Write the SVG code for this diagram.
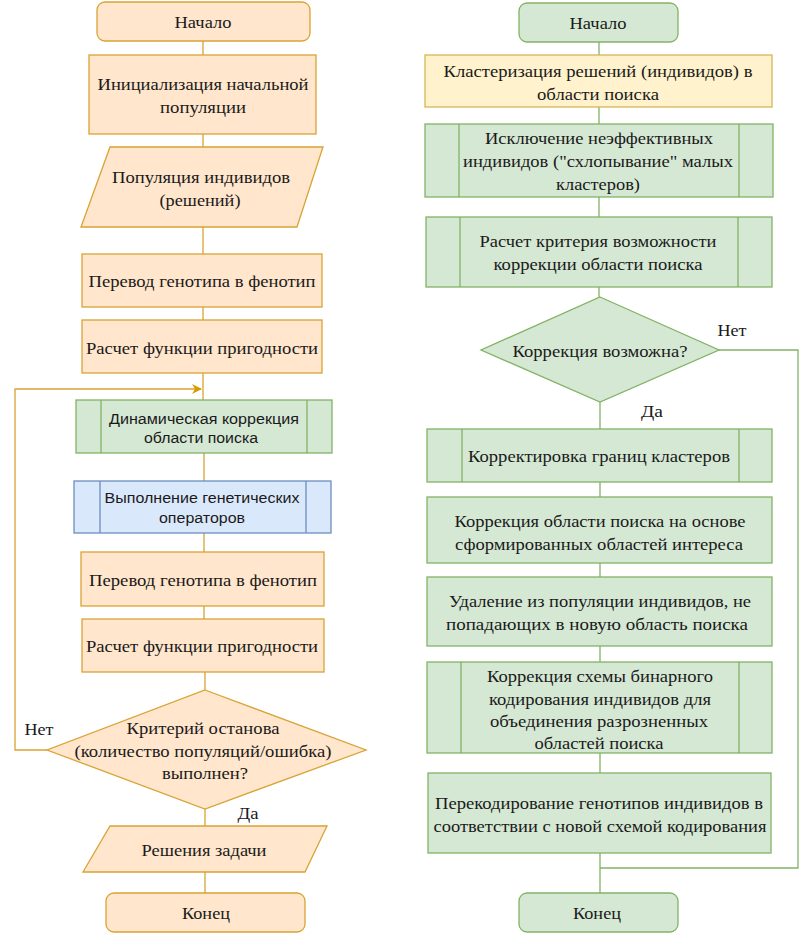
<svg xmlns="http://www.w3.org/2000/svg" width="800" height="934" viewBox="0 0 800 934">
<defs>
<style>
.o{fill:#ffe6cc;stroke:#d9a334;stroke-width:1.3}
.y{fill:#fff2cc;stroke:#d6b656;stroke-width:1.3}
.g{fill:#d5e8d4;stroke:#82b366;stroke-width:1.3}
.b{fill:#dae8fc;stroke:#6c8ebf;stroke-width:1.3}
.t{font-size:17.5px;fill:#1a1a1a;text-anchor:middle}
.s{font-size:15.5px;fill:#1a1a1a;text-anchor:middle}
.lo{fill:none;stroke:#d9a334;stroke-width:1.3}
.lg{fill:none;stroke:#82b366;stroke-width:1.3}
</style>
<marker id="ah" markerWidth="10" markerHeight="10" refX="9" refY="5" orient="auto" markerUnits="userSpaceOnUse">
<path d="M0,0 L10,5 L0,10 L3,5 z" fill="#d79b00"/>
</marker>
</defs>
<rect width="800" height="934" fill="#ffffff"/>
<g id="connectors">
<path class="lo" d="M203,41 V55 M203,134 V147 M203,227 V254 M203,307 V320 M203,373 V400 M204,453 V481 M204,533 V552 M204,606 V619 M205,672 V690 M205,809 V826 M205,872 V893"/>
<path class="lo" d="M47,750 H15 V389 H201" marker-end="url(#ah)"/>
<path class="lg" d="M599,42 V55 M599,107 V124 M599,197 V217 M599,287 V297 M600,402 V429 M600,482 V497 M600,563 V577 M600,646 V662 M600,753 V773 M600,853 V893"/>
<path class="lg" d="M719,350 H798 V868 H600"/>
</g>
<g font-family="Liberation Serif, DejaVu Serif, Times New Roman, serif">
<g id="l-start"><rect class="o" x="97" y="2" width="213" height="39" rx="8"/><text class="t" x="203" y="27.5" textLength="57" lengthAdjust="spacingAndGlyphs">Начало</text></g>
<g id="l-init"><rect class="o" x="89" y="55" width="227" height="79"/><text class="t" x="203" y="89.5" textLength="211" lengthAdjust="spacingAndGlyphs">Инициализация начальной</text><text class="t" x="203" y="112.5" textLength="86" lengthAdjust="spacingAndGlyphs">популяции</text></g>
<g id="l-pop"><polygon class="o" points="110,147 323,147 297,227 81,227"/><text class="t" x="201" y="182.5" textLength="178" lengthAdjust="spacingAndGlyphs">Популяция индивидов</text><text class="t" x="200" y="205.5" textLength="81" lengthAdjust="spacingAndGlyphs">(решений)</text></g>
<g id="l-geno1"><rect class="o" x="82" y="254" width="240" height="53"/><text class="t" x="202" y="286.5" textLength="227" lengthAdjust="spacingAndGlyphs">Перевод генотипа в фенотип</text></g>
<g id="l-fit1"><rect class="o" x="82" y="320" width="240" height="53"/><text class="t" x="202" y="353.5" textLength="232" lengthAdjust="spacingAndGlyphs">Расчет функции пригодности</text></g>
<g id="l-dyn" font-family="Liberation Sans, DejaVu Sans, Arial, sans-serif"><rect class="g" x="76" y="400" width="256" height="53"/><path class="lg" d="M101,400 V453 M307,400 V453"/><text class="s" x="204" y="423.5" textLength="190" lengthAdjust="spacingAndGlyphs">Динамическая коррекция</text><text class="s" x="201" y="442.5" textLength="114" lengthAdjust="spacingAndGlyphs">области поиска</text></g>
<g id="l-gen" font-family="Liberation Sans, DejaVu Sans, Arial, sans-serif"><rect class="b" x="74" y="481" width="257" height="52"/><path fill="none" stroke="#6c8ebf" stroke-width="1.3" d="M100,481 V533 M306,481 V533"/><text class="s" x="202" y="502.5" textLength="195" lengthAdjust="spacingAndGlyphs">Выполнение генетических</text><text class="s" x="202" y="522.5" textLength="86" lengthAdjust="spacingAndGlyphs">операторов</text></g>
<g id="l-geno2"><rect class="o" x="81" y="552" width="243" height="54"/><text class="t" x="203" y="585.5" textLength="228" lengthAdjust="spacingAndGlyphs">Перевод генотипа в фенотип</text></g>
<g id="l-fit2"><rect class="o" x="82" y="619" width="242" height="53"/><text class="t" x="202" y="651.5" textLength="232" lengthAdjust="spacingAndGlyphs">Расчет функции пригодности</text></g>
<g id="l-stop"><polygon class="o" points="205,690 366,750 205,809 47,750"/><text class="t" x="203" y="733.5" textLength="153" lengthAdjust="spacingAndGlyphs">Критерий останова</text><text class="t" x="203" y="756.5" textLength="257" lengthAdjust="spacingAndGlyphs">(количество популяций/ошибка)</text><text class="t" x="205" y="778.5" textLength="86" lengthAdjust="spacingAndGlyphs">выполнен?</text></g>
<g id="l-res"><polygon class="o" points="110,826 327,826 305,872 83,872"/><text class="t" x="204" y="856" textLength="125" lengthAdjust="spacingAndGlyphs">Решения задачи</text></g>
<g id="l-end"><rect class="o" x="106" y="893" width="199" height="39" rx="8"/><text class="t" x="206" y="918.5" textLength="48" lengthAdjust="spacingAndGlyphs">Конец</text></g>
<text class="t" x="39" y="734.5" textLength="29" lengthAdjust="spacingAndGlyphs">Нет</text>
<text class="t" x="248" y="818.5" textLength="21" lengthAdjust="spacingAndGlyphs">Да</text>
<g id="r-start"><rect class="g" x="519" y="3" width="159" height="39" rx="8"/><text class="t" x="598" y="28.5" textLength="57" lengthAdjust="spacingAndGlyphs">Начало</text></g>
<g id="r-clust"><rect class="y" x="425" y="55" width="347" height="52"/><text class="t" x="598" y="76.5" textLength="309" lengthAdjust="spacingAndGlyphs">Кластеризация решений (индивидов) в</text><text class="t" x="598" y="99.5" textLength="122" lengthAdjust="spacingAndGlyphs">области поиска</text></g>
<g id="r-excl"><rect class="g" x="425" y="124" width="348" height="73"/><path class="lg" d="M459,124 V197 M739,124 V197"/><text class="t" x="599" y="143.5" textLength="228" lengthAdjust="spacingAndGlyphs">Исключение неэффективных</text><text class="t" x="598" y="166.5" textLength="270" lengthAdjust="spacingAndGlyphs">индивидов ("схлопывание" малых</text><text class="t" x="598" y="189.5" textLength="84" lengthAdjust="spacingAndGlyphs">кластеров)</text></g>
<g id="r-crit"><rect class="g" x="426" y="217" width="346" height="70"/><path class="lg" d="M460,217 V287 M738,217 V287"/><text class="t" x="598" y="246.5" textLength="237" lengthAdjust="spacingAndGlyphs">Расчет критерия возможности</text><text class="t" x="598" y="269.5" textLength="209" lengthAdjust="spacingAndGlyphs">коррекции области поиска</text></g>
<g id="r-dec"><polygon class="g" points="600,297 719,350 600,402 481,350"/><text class="t" x="600" y="356.5" textLength="175" lengthAdjust="spacingAndGlyphs">Коррекция возможна?</text></g>
<text class="t" x="732" y="335.5" textLength="29" lengthAdjust="spacingAndGlyphs">Нет</text>
<text class="t" x="652" y="416.5" textLength="22" lengthAdjust="spacingAndGlyphs">Да</text>
<g id="r-bound"><rect class="g" x="427" y="429" width="345" height="53"/><path class="lg" d="M462,429 V482 M739,429 V482"/><text class="t" x="599" y="461.5" textLength="262" lengthAdjust="spacingAndGlyphs">Корректировка границ кластеров</text></g>
<g id="r-area"><rect class="g" x="427" y="497" width="345" height="66"/><text class="t" x="600" y="526.5" textLength="291" lengthAdjust="spacingAndGlyphs">Коррекция области поиска на основе</text><text class="t" x="599" y="549.5" textLength="288" lengthAdjust="spacingAndGlyphs">сформированных областей интереса</text></g>
<g id="r-del"><rect class="g" x="427" y="577" width="345" height="69"/><text class="t" x="600" y="606.5" textLength="302" lengthAdjust="spacingAndGlyphs">Удаление из популяции индивидов, не</text><text class="t" x="597" y="629.5" textLength="302" lengthAdjust="spacingAndGlyphs">попадающих в новую область поиска</text></g>
<g id="r-code"><rect class="g" x="427" y="662" width="345" height="91"/><path class="lg" d="M461,662 V753 M739,662 V753"/><text class="t" x="600" y="681.5" textLength="226" lengthAdjust="spacingAndGlyphs">Коррекция схемы бинарного</text><text class="t" x="600" y="704.5" textLength="222" lengthAdjust="spacingAndGlyphs">кодирования индивидов для</text><text class="t" x="599" y="726.5" textLength="218" lengthAdjust="spacingAndGlyphs">объединения разрозненных</text><text class="t" x="599" y="748.5" textLength="129" lengthAdjust="spacingAndGlyphs">областей поиска</text></g>
<g id="r-recode"><rect class="g" x="428" y="773" width="343" height="80"/><text class="t" x="599" y="808.5" textLength="328" lengthAdjust="spacingAndGlyphs">Перекодирование генотипов индивидов в</text><text class="t" x="600" y="831.5" textLength="333" lengthAdjust="spacingAndGlyphs">соответствии с новой схемой кодирования</text></g>
<g id="r-end"><rect class="g" x="519" y="893" width="159" height="39" rx="8"/><text class="t" x="597" y="918.5" textLength="48" lengthAdjust="spacingAndGlyphs">Конец</text></g>
</g>
</svg>
